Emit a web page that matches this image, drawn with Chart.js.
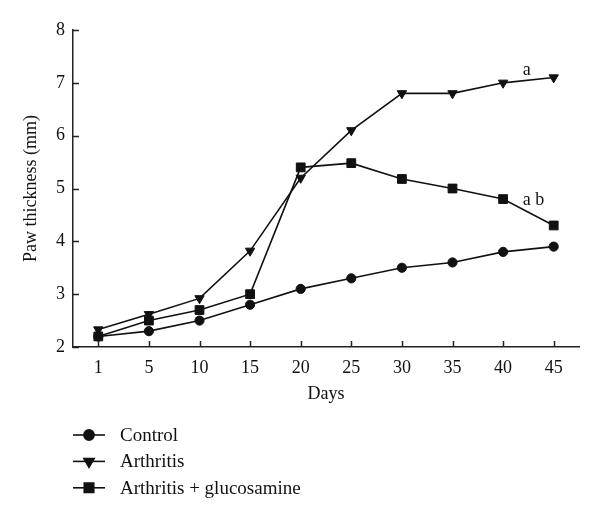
<!DOCTYPE html>
<html>
<head>
<meta charset="utf-8">
<script src="https://cdn.jsdelivr.net/npm/chart.js@4"></script>
<style>
  html, body { margin: 0; padding: 0; background: #fff; }
  #wrap { width: 600px; height: 517px; position: relative; }
</style>
</head>
<body>
<div id="wrap"><canvas id="c" width="600" height="517"></canvas></div>
<script>
const days = ['1', '5', '10', '15', '20', '25', '30', '35', '40', '45'];
const control = [2.2, 2.3, 2.5, 2.8, 3.1, 3.3, 3.5, 3.6, 3.8, 3.9];
const arthritis = [2.33, 2.62, 2.92, 3.82, 5.2, 6.1, 6.8, 6.8, 7.0, 7.1];
const glucosamine = [2.2, 2.5, 2.7, 3.0, 5.4, 5.48, 5.18, 5.0, 4.8, 4.3];
const yTicks = [2, 3, 4, 5, 6, 7, 8];
const seriesNames = ['Control', 'Arthritis', 'Arthritis + glucosamine'];
const annotations = [
  { text: 'a', index: 8.39, value: 7.15 },
  { text: 'a b', index: 8.39, value: 4.69 }
];

const FONT = '"Liberation Serif", "Times New Roman", serif';
const INK = '#111';

function ds(label, data, style, radius, rot) {
  return {
    label, data,
    borderColor: INK, backgroundColor: INK,
    borderWidth: 1.6,
    pointStyle: style, pointRadius: radius, pointRotation: rot,
    pointBackgroundColor: INK, pointBorderColor: INK, pointBorderWidth: 1,
    tension: 0, fill: false
  };
}

const inwardTicks = {
  id: 'inwardTicks',
  afterDatasetsDraw(chart) {
    const {ctx, scales: {x, y}} = chart;
    ctx.save();
    ctx.strokeStyle = '#222';
    ctx.lineWidth = 1.5;
    ctx.beginPath();
    x.ticks.forEach((t, i) => {
      const px = Math.round(x.getPixelForTick(i)) + 0.5;
      ctx.moveTo(px, y.bottom);
      ctx.lineTo(px, y.bottom - 6);
    });
    y.ticks.forEach((t) => {
      const py = Math.round(y.getPixelForValue(t.value)) + 0.5;
      ctx.moveTo(x.left, py);
      ctx.lineTo(x.left + 6, py);
    });
    ctx.stroke();
    ctx.fillStyle = INK;
    ctx.font = '18px ' + FONT;
    ctx.textAlign = 'left';
    ctx.textBaseline = 'alphabetic';
    annotations.forEach(a => {
      ctx.fillText(a.text, x.getPixelForValue(a.index), y.getPixelForValue(a.value));
    });
    ctx.restore();
  }
};

const customLegend = {
  id: 'customLegend',
  afterDraw(chart) {
    const {ctx, scales: {x}} = chart;
    const left = x.left;
    const top = 435;
    const rowH = 26.4;
    ctx.save();
    ctx.font = '19px ' + FONT;
    ctx.textBaseline = 'middle';
    ctx.textAlign = 'left';
    chart.data.datasets.forEach((d, i) => {
      const cy = top + i * rowH;
      ctx.strokeStyle = INK;
      ctx.lineWidth = 1.6;
      ctx.beginPath();
      ctx.moveTo(left, cy);
      ctx.lineTo(left + 32, cy);
      ctx.stroke();
      ctx.fillStyle = INK;
      Chart.helpers.drawPoint(ctx, {
        pointStyle: d.pointStyle, radius: d.pointRadius + 0.5,
        rotation: d.pointRotation, borderWidth: 1
      }, left + 16, cy);
      ctx.fillStyle = INK;
      ctx.fillText(d.label, left + 47, cy + 1);
    });
    ctx.restore();
  }
};

new Chart(document.getElementById('c'), {
  type: 'line',
  data: {
    labels: days,
    datasets: [
      ds(seriesNames[0], control, 'circle', 4.6, 0),
      ds(seriesNames[1], arthritis, 'triangle', 5.4, 180),
      ds(seriesNames[2], glucosamine, 'rect', 6.2, 0)
    ]
  },
  options: {
    responsive: false,
    animation: false,
    devicePixelRatio: 1,
    layout: { padding: { left: 0, right: 21, top: 30, bottom: 114 } },
    plugins: { legend: { display: false }, tooltip: { enabled: false } },
    scales: {
      x: {
        type: 'category',
        offset: true,
        afterFit(scale) { scale.height -= 4; },
        grid: { display: false, drawTicks: false },
        border: { display: true, color: '#222', width: 1.5 },
        ticks: { color: INK, font: { family: FONT, size: 18, lineHeight: 1.0 }, padding: 12, maxRotation: 0, autoSkip: false },
        title: { display: true, text: 'Days', color: INK, font: { family: FONT, size: 18, lineHeight: 1.0 }, padding: { top: 0, bottom: 0 } }
      },
      y: {
        min: 2, max: 8,
        afterBuildTicks(scale) { scale.ticks = yTicks.map(v => ({ value: v })); },
        afterFit(scale) { scale.width = 73; },
        grid: { display: false, drawTicks: false },
        border: { display: true, color: '#222', width: 1.5 },
        ticks: { color: INK, font: { family: FONT, size: 18 }, padding: 8 },
        title: { display: true, text: 'Paw thickness (mm)', color: INK, font: { family: FONT, size: 18 }, padding: { top: 20, bottom: 0 } }
      }
    }
  },
  plugins: [inwardTicks, customLegend]
});
</script>
</body>
</html>
